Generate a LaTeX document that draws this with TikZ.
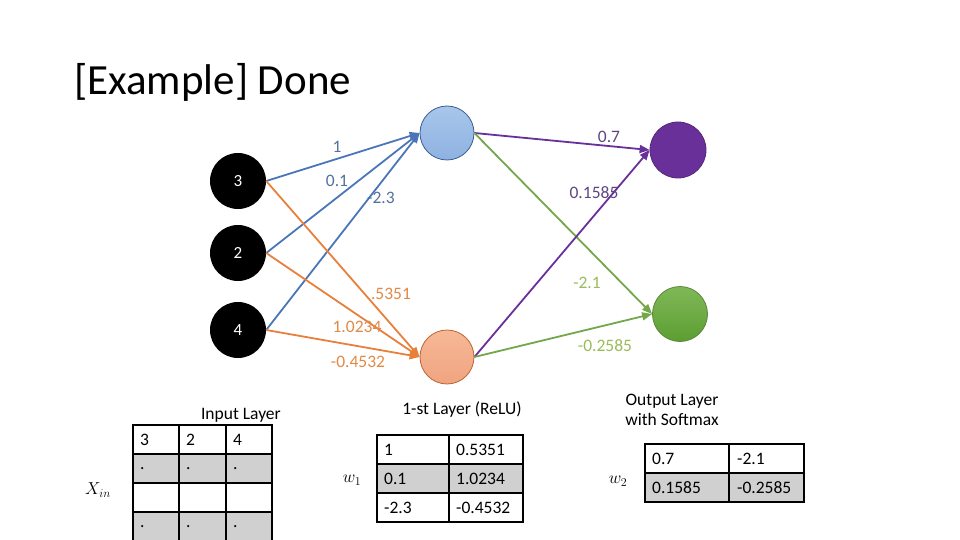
\documentclass[tikz,border=0pt]{standalone}
\usepackage{fontspec}
\setmainfont{Carlito}
\usetikzlibrary{arrows.meta}
\definecolor{eblue}{HTML}{4A76B8}
\definecolor{lblue}{HTML}{52729E}
\definecolor{eorange}{HTML}{E8803C}
\definecolor{lorange}{HTML}{E08A48}
\definecolor{epurple}{HTML}{6A309A}
\definecolor{lpurple}{HTML}{5E4680}
\definecolor{egreen}{HTML}{73A74A}
\definecolor{lgreen}{HTML}{9BBB59}
\definecolor{cellgray}{HTML}{D0D0D0}
\definecolor{btop}{RGB}{168,198,235}
\definecolor{bbot}{RGB}{142,178,225}
\definecolor{otop}{RGB}{247,184,150}
\definecolor{obot}{RGB}{240,164,128}
\definecolor{gtop}{RGB}{128,184,88}
\definecolor{gbot}{RGB}{92,158,50}
\begin{document}
\begin{tikzpicture}[x=1pt,y=-1pt,
  txt/.style={font=\fontsize{17.5}{20}\selectfont, inner sep=0pt},
  inp/.style={circle, fill=black, minimum size=56pt, inner sep=0pt, text=white, font=\fontsize{17}{20}\selectfont},
  neuron/.style={circle, minimum size=#1, inner sep=0pt, line width=0.8pt},
  wire/.style={line width=1.8pt, -{Triangle[length=10pt,width=8pt]}},
  cell/.style={txt, anchor=west},
  grid/.style={line width=1.8pt, black}
]
\useasboundingbox (0,0) rectangle (960,540);
\node[anchor=base west, font=\fontsize{43}{48}\selectfont, inner sep=0pt] (title) at (74,95) {[Example] Done};

% input layer
\node[inp] (i1) at (238,181) {3};
\node[inp] (i2) at (238,253) {2};
\node[inp] (i3) at (238,330) {4};

% hidden layer
\node[neuron=54pt, draw=eblue!80!black, top color=btop, bottom color=bbot] (h1) at (447,133) {};
\node[neuron=54pt, draw=eorange!80!black, top color=otop, bottom color=obot] (h2) at (447,357) {};

% output layer
\node[neuron=56pt, fill=epurple, draw=epurple!80!black] (o1) at (678,150) {};
\node[neuron=55pt, draw=egreen!80!black, top color=gtop, bottom color=gbot] (o2) at (680,314) {};

% input -> hidden
\draw[wire, eblue] (i1.east) -- (h1.west);
\draw[wire, eblue] (i2.east) -- (h1.west);
\draw[wire, eblue] (i3.east) -- (h1.west);
\draw[wire, eorange] (i1.east) -- (h2.west);
\draw[wire, eorange] (i2.east) -- (h2.west);
\draw[wire, eorange] (i3.east) -- (h2.west);

% hidden -> output
\draw[wire, epurple] (h1.east) -- (o1.west);
\draw[wire, egreen] (h1.east) -- (o2.west);
\draw[wire, epurple] (h2.east) -- (o1.west);
\draw[wire, egreen] (h2.east) -- (o2.west);

% weight labels
\node[txt, text=lblue] (l1) at (337,147) {1};
\node[txt, text=lblue] (l2) at (337,181) {0.1};
\node[txt, text=lblue] (l3) at (381,198) {-2.3};
\node[txt, text=lorange] (l4) at (391,294) {.5351};
\node[txt, text=lorange] (l5) at (357,327) {1.0234};
\node[txt, text=lorange] (l6) at (358,362) {-0.4532};
\node[txt, text=lpurple] (l7) at (609,137) {0.7};
\node[txt, text=lpurple] (l8) at (594,193) {0.1585};
\node[txt, text=lgreen] (l9) at (587,283) {-2.1};
\node[txt, text=lgreen] (l10) at (605,346) {-0.2585};

% ---- input table
\fill[cellgray] (133,454) rectangle (272,483);
\fill[cellgray] (133,512) rectangle (272,545);
\draw[grid] (133,545) -- (133,425) -- (272,425) -- (272,545);
\draw[grid] (179,425) -- (179,545);
\draw[grid] (226,425) -- (226,545);
\draw[grid] (133,454) -- (272,454);
\draw[grid] (133,483) -- (272,483);
\draw[grid] (133,512) -- (272,512);
\node[cell] (a11) at (140,440) {3};
\node[cell] (a12) at (186,440) {2};
\node[cell] (a13) at (233,440) {4};
\node[cell] (a21) at (140,469) {.};
\node[cell] (a22) at (186,469) {.};
\node[cell] (a23) at (233,469) {.};
\node[cell] (a41) at (140,527) {.};
\node[cell] (a42) at (186,527) {.};
\node[cell] (a43) at (233,527) {.};
\node[txt, anchor=east] (inlab) at (281,415) {Input Layer};
\node[font=\fontsize{17}{20}\selectfont, inner sep=0pt] (xin) at (98,490) {$X_{in}$};

% ---- w1 table
\fill[cellgray] (377,464) rectangle (523,493);
\draw[grid] (377,435) rectangle (523,522);
\draw[grid] (449,435) -- (449,522);
\draw[grid] (377,464) -- (523,464);
\draw[grid] (377,493) -- (523,493);
\node[cell] (b11) at (384,450) {1};
\node[cell] (b12) at (456,450) {0.5351};
\node[cell] (b21) at (384,479) {0.1};
\node[cell] (b22) at (456,479) {1.0234};
\node[cell] (b31) at (384,508) {-2.3};
\node[cell] (b32) at (456,508) {-0.4532};
\node[txt] (w1lab) at (462,410) {1-st Layer (ReLU)};
\node[font=\fontsize{17}{20}\selectfont, inner sep=0pt] (w1) at (352,480) {$w_1$};

% ---- w2 table
\fill[cellgray] (645,473) rectangle (804,502);
\draw[grid] (645,444) rectangle (804,502);
\draw[grid] (729,444) -- (729,502);
\draw[grid] (645,473) -- (804,473);
\node[cell] (c11) at (652,459) {0.7};
\node[cell] (c12) at (737,459) {-2.1};
\node[cell] (c21) at (652,488) {0.1585};
\node[cell] (c22) at (737,488) {-0.2585};
\node[txt, align=center] (w2lab) at (672,410) {Output Layer\\with Softmax};
\node[font=\fontsize{17}{20}\selectfont, inner sep=0pt] (w2) at (618,481) {$w_2$};
\end{tikzpicture}
\end{document}
